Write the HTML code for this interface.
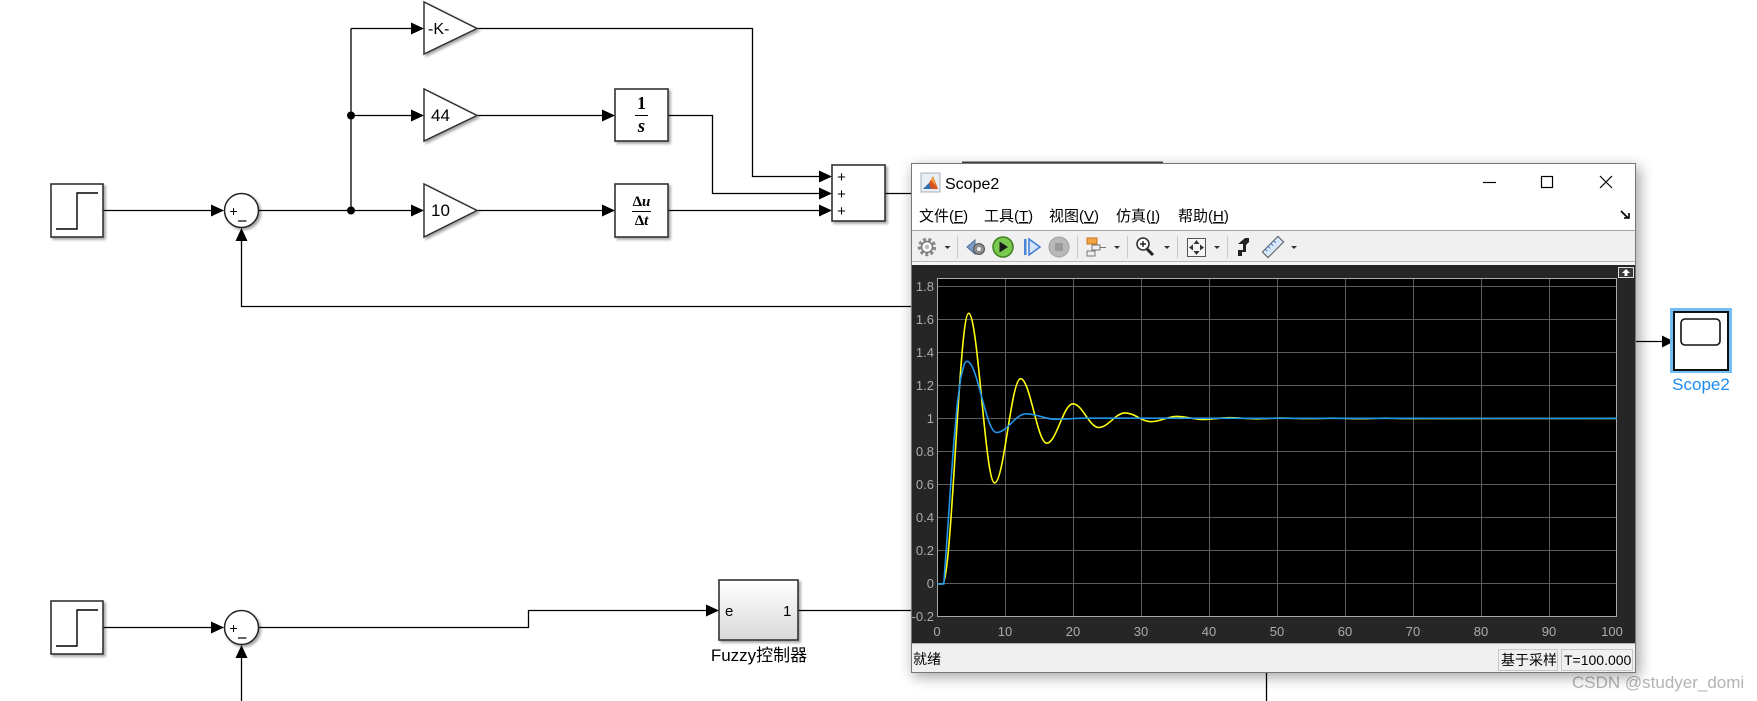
<!DOCTYPE html>
<html>
<head>
<meta charset="utf-8">
<style>
html,body{margin:0;padding:0;background:#fff;}
body{width:1757px;height:701px;overflow:hidden;}
svg{display:block;}
text{font-family:"Liberation Sans","Noto Sans CJK SC",sans-serif;}
.serif{font-family:"Liberation Serif","DejaVu Serif",serif;}
</style>
</head>
<body>
<svg width="1757" height="701" viewBox="0 0 1757 701" xmlns="http://www.w3.org/2000/svg">
<defs>
  <filter id="ds" x="-20%" y="-20%" width="150%" height="150%">
    <feDropShadow dx="2" dy="2" stdDeviation="1.3" flood-color="#000" flood-opacity="0.35"/>
  </filter>
  <filter id="wsh" x="-10%" y="-10%" width="120%" height="120%">
    <feGaussianBlur stdDeviation="7"/>
  </filter>
  <linearGradient id="fz" x1="0" y1="0" x2="0" y2="1">
    <stop offset="0" stop-color="#ffffff"/>
    <stop offset="1" stop-color="#d9d9d9"/>
  </linearGradient>
</defs>

<!-- ================= TOP DIAGRAM ================= -->
<g stroke="#000" stroke-width="1.3" fill="none">
  <line x1="103" y1="210.5" x2="212" y2="210.5"/>
  <line x1="259" y1="210.5" x2="351" y2="210.5"/>
  <line x1="351" y1="28.5" x2="351" y2="210.5"/>
  <line x1="351" y1="28.5" x2="412" y2="28.5"/>
  <line x1="351" y1="115.5" x2="412" y2="115.5"/>
  <line x1="351" y1="210.5" x2="412" y2="210.5"/>
  <polyline points="241.5,240 241.5,306.5 912,306.5"/>
  <polyline points="477,28.5 752.5,28.5 752.5,176.5 820,176.5"/>
  <line x1="477" y1="115.5" x2="603" y2="115.5"/>
  <polyline points="668,115.5 712.5,115.5 712.5,193.5 820,193.5"/>
  <line x1="477" y1="210.5" x2="603" y2="210.5"/>
  <line x1="668" y1="210.5" x2="820" y2="210.5"/>
  <line x1="885" y1="193.5" x2="912" y2="193.5"/>
</g>
<g fill="#000">
  <polygon points="211,204.5 224,210.5 211,216.5"/>
  <polygon points="235.5,241 241.5,228 247.5,241"/>
  <circle cx="351" cy="210.5" r="4"/>
  <circle cx="351" cy="115.5" r="4"/>
  <polygon points="411,22.5 424,28.5 411,34.5"/>
  <polygon points="411,109.5 424,115.5 411,121.5"/>
  <polygon points="411,204.5 424,210.5 411,216.5"/>
  <polygon points="602,109.5 615,115.5 602,121.5"/>
  <polygon points="602,204.5 615,210.5 602,216.5"/>
  <polygon points="819,170.5 832,176.5 819,182.5"/>
  <polygon points="819,187.5 832,193.5 819,199.5"/>
  <polygon points="819,204.5 832,210.5 819,216.5"/>
</g>

<rect x="51" y="184" width="52" height="53" fill="#fff" stroke="#333" stroke-width="1.6" filter="url(#ds)"/>
<polyline points="56,229 77,229 77,193 98,193" fill="none" stroke="#000" stroke-width="1.4"/>
<circle cx="241.5" cy="210.5" r="17" fill="#fff" stroke="#222" stroke-width="1.5" filter="url(#ds)"/>
<text x="229.5" y="216" font-size="14" fill="#000">+</text>
<line x1="238" y1="221" x2="246.5" y2="221" stroke="#000" stroke-width="1.2"/>

<g fill="#fff" stroke="#333" stroke-width="1.5" filter="url(#ds)">
  <polygon points="424,2 424,54 477,28.5"/>
  <polygon points="424,89 424,141 477,115.5"/>
  <polygon points="424,184 424,237 477,210.5"/>
</g>
<text x="428" y="34" font-size="16" fill="#000">-K-</text>
<text x="431" y="121" font-size="17" fill="#000">44</text>
<text x="431" y="216" font-size="17" fill="#000">10</text>

<rect x="615" y="89" width="53" height="52" fill="#fff" stroke="#333" stroke-width="1.6" filter="url(#ds)"/>
<text class="serif" x="641.5" y="109" font-size="18" text-anchor="middle" font-weight="bold" fill="#000">1</text>
<line x1="635" y1="115.5" x2="648" y2="115.5" stroke="#000" stroke-width="1"/>
<text class="serif" x="641.5" y="132" font-size="19" text-anchor="middle" font-style="italic" font-weight="bold" fill="#000">s</text>

<rect x="615" y="184" width="53" height="53" fill="#fff" stroke="#333" stroke-width="1.6" filter="url(#ds)"/>
<text class="serif" x="641.5" y="206" font-size="15" text-anchor="middle" font-weight="bold" fill="#000">Δ<tspan font-style="italic">u</tspan></text>
<line x1="632" y1="211.5" x2="651" y2="211.5" stroke="#000" stroke-width="1"/>
<text class="serif" x="641.5" y="225" font-size="15" text-anchor="middle" font-weight="bold" fill="#000">Δ<tspan font-style="italic">t</tspan></text>

<rect x="832" y="165" width="53" height="56" fill="#fff" stroke="#333" stroke-width="1.6" filter="url(#ds)"/>
<text x="841.5" y="182" font-size="15" text-anchor="middle" fill="#000">+</text>
<text x="841.5" y="199" font-size="15" text-anchor="middle" fill="#000">+</text>
<text x="841.5" y="216" font-size="15" text-anchor="middle" fill="#000">+</text>

<!-- ================= BOTTOM DIAGRAM ================= -->
<g stroke="#000" stroke-width="1.3" fill="none">
  <line x1="103" y1="627.5" x2="212" y2="627.5"/>
  <polyline points="259,627.5 528.5,627.5 528.5,610.5 707,610.5"/>
  <line x1="241.5" y1="657" x2="241.5" y2="701"/>
  <line x1="798" y1="610.5" x2="912" y2="610.5"/>
  <line x1="1266.5" y1="673" x2="1266.5" y2="701"/>
  <line x1="1636" y1="341.5" x2="1663" y2="341.5"/>
</g>
<g fill="#000">
  <polygon points="211,621.5 224,627.5 211,633.5"/>
  <polygon points="235.5,658 241.5,645 247.5,658"/>
  <polygon points="706,604.5 719,610.5 706,616.5"/>
  <polygon points="1662,335.5 1674,341.5 1662,347.5"/>
</g>
<rect x="51" y="601" width="52" height="53" fill="#fff" stroke="#333" stroke-width="1.6" filter="url(#ds)"/>
<polyline points="56,646 77,646 77,610 98,610" fill="none" stroke="#000" stroke-width="1.4"/>
<circle cx="241.5" cy="627.5" r="17" fill="#fff" stroke="#222" stroke-width="1.5" filter="url(#ds)"/>
<text x="229.5" y="633" font-size="14" fill="#000">+</text>
<line x1="238" y1="638" x2="246.5" y2="638" stroke="#000" stroke-width="1.2"/>

<rect x="719" y="580" width="79" height="60" fill="url(#fz)" stroke="#333" stroke-width="1.6" filter="url(#ds)"/>
<text x="725" y="616" font-size="15" fill="#000">e</text>
<text x="783" y="616" font-size="15" fill="#000">1</text>
<text x="759" y="661" font-size="17" text-anchor="middle" fill="#000">Fuzzy控制器</text>

<rect x="1670" y="308" width="62" height="65" fill="#72bdf5"/>
<rect x="1674" y="312" width="54" height="58" fill="#fff" stroke="#111" stroke-width="2"/>
<rect x="1681" y="319" width="39" height="26" rx="4" fill="#fff" stroke="#111" stroke-width="1.6"/>
<text x="1701" y="390" font-size="17" text-anchor="middle" fill="#1a8cf0">Scope2</text>

<text x="1572" y="688" font-size="17" fill="#b3b3b3">CSDN @studyer_domi</text>

<!-- ================= SCOPE WINDOW ================= -->
<line x1="962" y1="162.5" x2="1163" y2="162.5" stroke="#444" stroke-width="2"/>
<rect x="913" y="167" width="727" height="510" fill="#000" opacity="0.35" filter="url(#wsh)"/>
<rect x="911.5" y="163.5" width="724" height="509" fill="#fff" stroke="#777" stroke-width="1"/>

<rect x="921" y="173" width="19" height="19" fill="#e9eef4" stroke="#a8b0ba" stroke-width="1"/>
<polygon points="923,189 929,183 933,176 938,189" fill="#d9531e"/>
<polygon points="923,189 929,183 931,189" fill="#2f6fb3"/>
<polygon points="931,180 933,176 936,186" fill="#f3a33a"/>
<text x="945" y="189" font-size="16" fill="#000">Scope2</text>
<line x1="1483" y1="182.5" x2="1496" y2="182.5" stroke="#000" stroke-width="1.2"/>
<rect x="1541.5" y="176.5" width="11" height="11" fill="none" stroke="#000" stroke-width="1.2"/>
<line x1="1600" y1="176" x2="1612" y2="188" stroke="#000" stroke-width="1.2"/>
<line x1="1612" y1="176" x2="1600" y2="188" stroke="#000" stroke-width="1.2"/>

<g font-size="15" fill="#000">
  <text x="919" y="221">文件(<tspan text-decoration="underline">F</tspan>)</text>
  <text x="984" y="221">工具(<tspan text-decoration="underline">T</tspan>)</text>
  <text x="1049" y="221">视图(<tspan text-decoration="underline">V</tspan>)</text>
  <text x="1116" y="221">仿真(<tspan text-decoration="underline">I</tspan>)</text>
  <text x="1178" y="221">帮助(<tspan text-decoration="underline">H</tspan>)</text>
</g>
<path d="M1621,211 L1628,218 M1624,218 L1629,218 L1629,213" stroke="#000" stroke-width="1.6" fill="none"/>

<rect x="912" y="230.5" width="723" height="31" fill="#f0f0f0"/>
<line x1="912" y1="230.5" x2="1635" y2="230.5" stroke="#a5a5a5"/>
<line x1="912" y1="261.5" x2="1635" y2="261.5" stroke="#b5b5b5"/>
<rect x="912" y="262" width="723" height="3" fill="#f7f7f7"/>
<g stroke="#c9c9c9" stroke-width="1">
  <line x1="957.5" y1="236" x2="957.5" y2="258"/>
  <line x1="1077.5" y1="236" x2="1077.5" y2="258"/>
  <line x1="1127.5" y1="236" x2="1127.5" y2="258"/>
  <line x1="1177.5" y1="236" x2="1177.5" y2="258"/>
  <line x1="1227.5" y1="236" x2="1227.5" y2="258"/>
</g>
<g fill="#333">
  <polygon points="944.5,246 950.5,246 947.5,249"/>
  <polygon points="1114,246 1120,246 1117,249"/>
  <polygon points="1164,246 1170,246 1167,249"/>
  <polygon points="1214,246 1220,246 1217,249"/>
  <polygon points="1291,246 1297,246 1294,249"/>
</g>
<circle cx="927" cy="247" r="7.5" fill="none" stroke="#8a8a8a" stroke-width="3.5" stroke-dasharray="3 2.2"/>
<circle cx="927" cy="247" r="5.5" fill="#fff" stroke="#777" stroke-width="1.5"/>
<circle cx="927" cy="247" r="2.2" fill="#bbb"/>
<polygon points="967,247 975,240 975,254" fill="#7a9cc6" stroke="#4e6f99" stroke-width="1"/>
<circle cx="979" cy="249" r="5.5" fill="#8c8c8c" stroke="#555" stroke-width="1"/>
<circle cx="979" cy="249" r="2" fill="#eee"/>
<circle cx="1003" cy="247" r="10" fill="#79c94f" stroke="#3f7f22" stroke-width="1.5"/>
<polygon points="999.5,241.5 999.5,252.5 1008,247" fill="#1c1c1c"/>
<rect x="1024" y="239" width="2.5" height="16" fill="#4b86d6"/>
<polygon points="1029,239 1029,255 1040,247" fill="#d5e4f7" stroke="#3d7bd4" stroke-width="1.5"/>
<circle cx="1059" cy="247" r="10" fill="#b8b8b8" stroke="#a0a0a0" stroke-width="1"/>
<rect x="1055" y="243" width="8" height="8" fill="#9a9a9a"/>
<rect x="1087" y="238" width="10" height="6" fill="#f3a341" stroke="#c7741a" stroke-width="1"/>
<rect x="1092" y="245" width="8" height="5" fill="#eee" stroke="#777" stroke-width="1"/>
<rect x="1087" y="251" width="8" height="5" fill="#eee" stroke="#777" stroke-width="1"/>
<line x1="1100" y1="247.5" x2="1106" y2="247.5" stroke="#777" stroke-width="1"/>
<line x1="1147" y1="249" x2="1153" y2="255" stroke="#222" stroke-width="3"/>
<circle cx="1143" cy="244" r="6" fill="#fff" stroke="#333" stroke-width="1.6"/>
<path d="M1140,244 H1146 M1143,241 V247" stroke="#222" stroke-width="1.4"/>
<rect x="1187.5" y="238.5" width="18" height="18" fill="#f5f5f5" stroke="#555" stroke-width="1"/>
<g fill="#333">
  <polygon points="1196.5,240 1193.5,244 1199.5,244"/>
  <polygon points="1196.5,255 1193.5,251 1199.5,251"/>
  <polygon points="1189,247.5 1193,244.5 1193,250.5"/>
  <polygon points="1204,247.5 1200,244.5 1200,250.5"/>
</g>
<path d="M1238,256 V250 H1243 V244 L1238,244 L1245,238 L1249,238 L1249,242 L1246,245 V252 H1242 V256 Z" fill="#222"/>
<g transform="rotate(-45 1273 247)">
  <rect x="1262" y="243" width="22" height="8" fill="#d8e8f8" stroke="#555" stroke-width="1"/>
  <path d="M1266,243 v3 M1270,243 v3 M1274,243 v3 M1278,243 v3" stroke="#3a7bd0" stroke-width="1"/>
</g>

<rect x="912" y="265" width="723" height="378" fill="#262626"/>
<rect x="937" y="278" width="680" height="339" fill="#000"/>
<g stroke="#5e5e5e" stroke-width="1">
  <line x1="1005.5" y1="278" x2="1005.5" y2="617"/>
  <line x1="1073.5" y1="278" x2="1073.5" y2="617"/>
  <line x1="1141.5" y1="278" x2="1141.5" y2="617"/>
  <line x1="1209.5" y1="278" x2="1209.5" y2="617"/>
  <line x1="1277.5" y1="278" x2="1277.5" y2="617"/>
  <line x1="1345.5" y1="278" x2="1345.5" y2="617"/>
  <line x1="1413.5" y1="278" x2="1413.5" y2="617"/>
  <line x1="1481.5" y1="278" x2="1481.5" y2="617"/>
  <line x1="1549.5" y1="278" x2="1549.5" y2="617"/>
  <line x1="937" y1="286.5" x2="1617" y2="286.5"/>
  <line x1="937" y1="319.5" x2="1617" y2="319.5"/>
  <line x1="937" y1="352.5" x2="1617" y2="352.5"/>
  <line x1="937" y1="385.5" x2="1617" y2="385.5"/>
  <line x1="937" y1="418.5" x2="1617" y2="418.5"/>
  <line x1="937" y1="451.5" x2="1617" y2="451.5"/>
  <line x1="937" y1="484.5" x2="1617" y2="484.5"/>
  <line x1="937" y1="517.5" x2="1617" y2="517.5"/>
  <line x1="937" y1="550.5" x2="1617" y2="550.5"/>
  <line x1="937" y1="583.5" x2="1617" y2="583.5"/>
</g>
<rect x="937.5" y="278.5" width="679" height="338" fill="none" stroke="#a8a8a8" stroke-width="1"/>
<rect x="1618.5" y="267.5" width="15" height="10" fill="#3a3a3a" stroke="#ddd" stroke-width="1"/>
<polygon points="1626,269 1622,273 1624.5,273 1624.5,276 1627.5,276 1627.5,273 1630,273" fill="#fff"/>

<g font-size="13" fill="#acacac" text-anchor="end">
  <text x="934" y="291">1.8</text>
  <text x="934" y="324">1.6</text>
  <text x="934" y="357">1.4</text>
  <text x="934" y="390">1.2</text>
  <text x="934" y="423">1</text>
  <text x="934" y="456">0.8</text>
  <text x="934" y="489">0.6</text>
  <text x="934" y="522">0.4</text>
  <text x="934" y="555">0.2</text>
  <text x="934" y="588">0</text>
  <text x="934" y="621">-0.2</text>
</g>
<g font-size="13" fill="#acacac" text-anchor="middle">
  <text x="937" y="636">0</text>
  <text x="1005" y="636">10</text>
  <text x="1073" y="636">20</text>
  <text x="1141" y="636">30</text>
  <text x="1209" y="636">40</text>
  <text x="1277" y="636">50</text>
  <text x="1345" y="636">60</text>
  <text x="1413" y="636">70</text>
  <text x="1481" y="636">80</text>
  <text x="1549" y="636">90</text>
  <text x="1612" y="636">100</text>
</g>

<path fill="none" stroke="#ffff11" stroke-width="1.6" d="M937,583.9 L942.4,583.9
 C951.9,583.9 959.1,313.3 968.6,313.3
 C978.1,313.3 985.1,482.9 994.6,482.9
 C1004.1,482.9 1011.1,378.7 1020.6,378.7
 C1030.1,378.7 1037.3,443.2 1046.8,443.2
 C1056.3,443.2 1063.4,403.8 1072.9,403.8
 C1082.4,403.8 1089.3,427.5 1098.8,427.5
 C1108.3,427.5 1115.5,412.9 1125,412.9
 C1134.5,412.9 1141.7,421.7 1151.2,421.7
 C1160.7,421.7 1167.5,416.4 1177,416.4
 C1186.5,416.4 1193.4,419.5 1202.9,419.5
 C1212.4,419.5 1219.9,417.7 1229.4,417.7
 C1238.9,417.7 1245.9,418.8 1255.4,418.8
 C1264.9,418.8 1272,418.1 1281.5,418.1
 C1291,418.1 1298,418.6 1307.5,418.6
 C1317,418.6 1324,418.2 1333.5,418.2
 C1343,418.2 1350,418.7 1359.5,418.7
 C1369,418.7 1376,418.2 1385.5,418.2
 C1395,418.2 1402,418.6 1411.5,418.6
 L1617,418.4"/>
<path fill="none" stroke="#1f95ea" stroke-width="1.6" d="M937,583.9 L943.8,583.9
 L947.2,536.6 L950.6,486.1 L954,439.9 L957.4,403 L960.8,377.7 L964.2,364.3
 C965.2,362 966,361.3 966.9,361.3
 C977.7,361.3 985.7,432.5 996.5,432.5
 C1007.3,432.5 1015.3,413.8 1026.1,413.8
 C1036.9,413.8 1044.9,419.3 1055.7,419.3
 C1066.5,419.3 1074.5,418.2 1085.3,418.2
 L1617,418.4"/>

<rect x="912" y="643" width="723" height="29" fill="#f0f0f0"/>
<line x1="912" y1="643.5" x2="1635" y2="643.5" stroke="#b0b0b0"/>
<text x="913" y="664" font-size="14" fill="#000">就绪</text>
<rect x="1498.5" y="649.5" width="59" height="21" fill="#f0f0f0" stroke="#c8c8c8"/>
<text x="1501" y="665" font-size="14" fill="#000">基于采样</text>
<rect x="1561.5" y="649.5" width="71" height="21" fill="#f0f0f0" stroke="#c8c8c8"/>
<text x="1564" y="665" font-size="14" fill="#000">T=100.000</text>
</svg>
</body>
</html>
